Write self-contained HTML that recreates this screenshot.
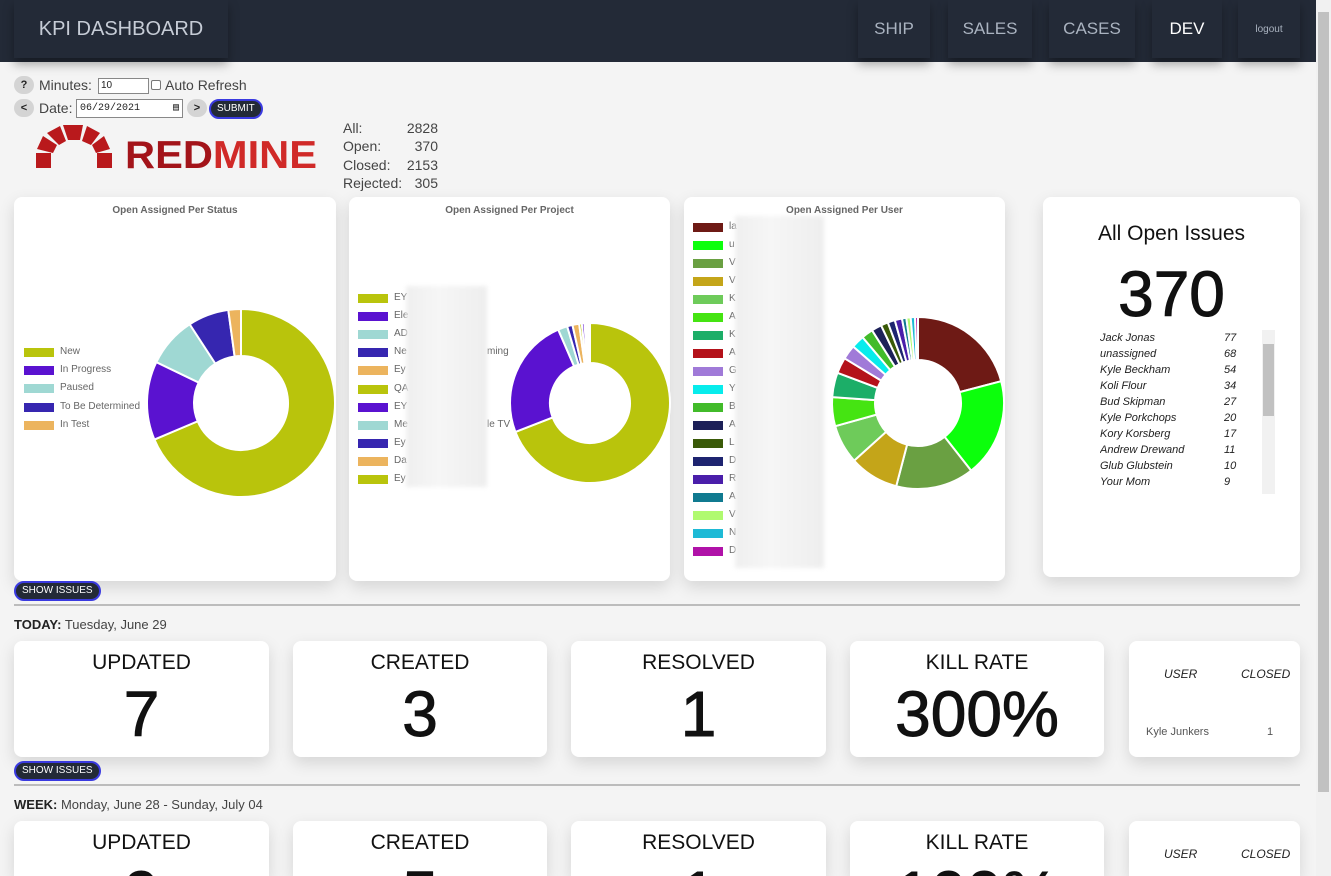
<!DOCTYPE html>
<html><head><meta charset="utf-8">
<style>
*{box-sizing:border-box;margin:0;padding:0}
html,body{width:1331px;height:876px;overflow:hidden}
body{background:#f4f4f4;font-family:"Liberation Sans",sans-serif;color:#222;position:relative}
.abs{position:absolute}
.hdr{left:0;top:0;width:1316px;height:62px;background:#232a37}
.navbox{position:absolute;top:0;height:58px;background:#232a37;box-shadow:0 6px 10px rgba(0,0,0,.35);color:#aab3c0;font-size:17px;display:flex;align-items:center;justify-content:center}
.card{position:absolute;background:#fff;border-radius:8px;box-shadow:0 6px 16px rgba(0,0,0,.13)}
.ctitle{position:absolute;top:8px;width:100%;text-align:center;font-size:10px;font-weight:bold;color:#666}
.btn{position:absolute;background:#232a37;color:#fff;border:2px solid #3a3ae0;border-radius:10px;font-size:10px;padding:2px 6px;line-height:12px}
.gbtn{position:absolute;width:20px;height:18px;border-radius:9px;background:#d4d4d4;font-size:11px;font-weight:bold;text-align:center;line-height:18px}
.leg{position:absolute;font-size:10px;color:#666}
.leg i{position:absolute;left:0;width:30px;height:9px;top:1px}
.leg span{position:absolute;left:36px;top:-1px;white-space:nowrap}
.blur{position:absolute;background:linear-gradient(90deg,#efefef,#f6f6f6 40%,#eeeeee);filter:blur(2px)}
.stat{text-align:center;overflow:hidden}
.stat .h{position:absolute;top:10px;width:100%;font-size:21px;color:#111}
.stat .v{position:absolute;top:36px;width:100%;font-size:64px;color:#111;-webkit-text-stroke:1px #111}
.hr{position:absolute;left:14px;width:1286px;height:2px;background:#bcbcbc}
.sec{position:absolute;left:14px;font-size:13px;color:#444}
.sec b{color:#222;font-weight:bold}
.wk{height:55px!important;border-radius:8px 8px 0 0}
</style></head><body>
<div class="abs hdr"></div>
<div class="navbox" style="left:14px;width:214px;font-size:20px;color:#c6ccd6">KPI DASHBOARD</div>
<div class="navbox" style="left:858px;width:72px">SHIP</div>
<div class="navbox" style="left:948px;width:84px">SALES</div>
<div class="navbox" style="left:1049px;width:86px">CASES</div>
<div class="navbox" style="left:1152px;width:70px;color:#fff">DEV</div>
<div class="navbox" style="left:1238px;width:62px;font-size:10px">logout</div>
<div class="abs" style="left:1316px;top:0;width:15px;height:876px;background:#f1f1f1;z-index:5"><div style="position:absolute;left:2px;top:12px;width:11px;height:780px;background:#c1c1c1"></div></div>

<div class="gbtn" style="left:14px;top:76px">?</div>
<div class="abs" style="left:39px;top:77px;font-size:14px;color:#444">Minutes:</div>
<div class="abs" style="left:98px;top:78px;width:51px;height:16px;border:1px solid #888;background:#fff;font-size:10px;padding-left:2px;line-height:14px">10</div>
<div class="abs" style="left:151px;top:80px;width:10px;height:10px;border:1px solid #777;border-radius:2px;background:#fff"></div>
<div class="abs" style="left:165px;top:77px;font-size:14px;color:#444">Auto Refresh</div>
<div class="gbtn" style="left:14px;top:99px">&lt;</div>
<div class="abs" style="left:39px;top:100px;font-size:14px;color:#444">Date:</div>
<div class="abs" style="left:76px;top:99px;width:107px;height:19px;border:1px solid #888;background:#fff;font-size:10px;padding-left:3px;line-height:17px;font-family:'Liberation Mono',monospace">06/29/2021 <span style="float:right;margin-right:3px">&#9636;</span></div>
<div class="gbtn" style="left:187px;top:99px">&gt;</div>
<div class="btn" style="left:209px;top:99px;height:20px">SUBMIT</div>

<svg class="abs" style="left:34px;top:124px" width="290" height="48">
<g fill="#b9191c">
<path d="M2 44 L2 29 L17 29 L17 44Z"/><path d="M3 25 L9 12 L23 21 L19 29Z"/><path d="M13 9 L26 2 L32 17 L25 21Z"/><path d="M29 1 L49 1 L46 16 L34 16Z"/><path d="M53 2 L66 9 L57 21 L48 17Z"/><path d="M70 12 L76 25 L62 29 L58 21Z"/><path d="M63 29 L78 29 L78 44 L63 44Z"/>
</g>
<text x="91" y="44" font-family="Liberation Sans" font-weight="bold" font-size="39" fill="#a3141a" textLength="192" lengthAdjust="spacingAndGlyphs">RED<tspan fill="#d02a28">MINE</tspan></text>
</svg>
<div class="abs" style="left:343px;top:119px;font-size:14px;line-height:18.3px;color:#444">All:<br>Open:<br>Closed:<br>Rejected:</div>
<div class="abs" style="left:400px;top:119px;width:38px;text-align:right;font-size:14px;line-height:18.3px;color:#444">2828<br>370<br>2153<br>305</div>

<div class="card" style="left:14px;top:197px;width:322px;height:384px"><div class="ctitle">Open Assigned Per Status</div></div>
<div class="card" style="left:349px;top:197px;width:321px;height:384px"><div class="ctitle">Open Assigned Per Project</div></div>
<div class="card" style="left:684px;top:197px;width:321px;height:384px"><div class="ctitle">Open Assigned Per User</div></div>
<div class="card" style="left:1043px;top:197px;width:257px;height:380px">
<div style="position:absolute;top:25px;width:100%;text-align:center;font-size:21px;color:#111">All Open Issues</div>
<div style="position:absolute;top:60px;width:100%;text-align:center;font-size:64px;color:#111;-webkit-text-stroke:1px #111">370</div>
<div style="position:absolute;left:219px;top:133px;width:13px;height:164px;background:#f1f1f1"><div style="position:absolute;left:1px;top:14px;width:11px;height:72px;background:#c1c1c1"></div></div>
</div>
<div id="issuelist"></div>
<svg class="abs" id="charts" style="left:0;top:0" width="1331" height="876"></svg>
<div id="legends"></div>
<div class="blur" style="left:406px;top:286px;width:81px;height:201px"></div>
<div class="blur" style="left:735px;top:216px;width:89px;height:352px"></div>

<div class="btn" style="left:14px;top:581px">SHOW ISSUES</div>
<div class="hr" style="top:604px"></div>
<div class="sec" style="top:617px"><b>TODAY:</b> Tuesday, June 29</div>
<div class="card stat" style="left:14px;top:641px;width:255px;height:116px"><div class="h">UPDATED</div><div class="v">7</div></div>
<div class="card stat" style="left:293px;top:641px;width:254px;height:116px"><div class="h">CREATED</div><div class="v">3</div></div>
<div class="card stat" style="left:571px;top:641px;width:255px;height:116px"><div class="h">RESOLVED</div><div class="v">1</div></div>
<div class="card stat" style="left:850px;top:641px;width:254px;height:116px"><div class="h">KILL RATE</div><div class="v">300%</div></div>
<div class="card" style="left:1129px;top:641px;width:171px;height:116px">
<div style="position:absolute;left:35px;top:26px;font-size:12px;font-style:italic;color:#222">USER</div>
<div style="position:absolute;left:112px;top:26px;font-size:12px;font-style:italic;color:#222">CLOSED</div>
<div style="position:absolute;left:17px;top:85px;font-size:11px;color:#555">Kyle Junkers</div>
<div style="position:absolute;left:138px;top:85px;font-size:11px;color:#555">1</div></div>
<div class="btn" style="left:14px;top:761px">SHOW ISSUES</div>
<div class="hr" style="top:784px"></div>
<div class="sec" style="top:797px"><b>WEEK:</b> Monday, June 28 - Sunday, July 04</div>
<div class="card stat wk" style="left:14px;top:821px;width:255px"><div class="h">UPDATED</div><div class="v">9</div></div>
<div class="card stat wk" style="left:293px;top:821px;width:254px"><div class="h">CREATED</div><div class="v">5</div></div>
<div class="card stat wk" style="left:571px;top:821px;width:255px"><div class="h">RESOLVED</div><div class="v">1</div></div>
<div class="card stat wk" style="left:850px;top:821px;width:254px"><div class="h">KILL RATE</div><div class="v">100%</div></div>
<div class="card wk" style="left:1129px;top:821px;width:171px">
<div style="position:absolute;left:35px;top:26px;font-size:12px;font-style:italic;color:#222">USER</div>
<div style="position:absolute;left:112px;top:26px;font-size:12px;font-style:italic;color:#222">CLOSED</div></div>

<script>
const statusLabels=["New","In Progress","Paused","To Be Determined","In Test"];
const statusValues=[254,50,32,26,8];
const statusColors=["#b9c40c","#5a12d0","#9fd8d3","#3626b0","#ecb45e"];
const projectLabels=["EY","Ele","AD","Ne","Ey","QA","EY","Me","Ey","Da","Ey"];
const projectValues=[255,90,7,4,5,2,2,1,1,1,1];
const projectColors=["#b9c40c","#5a12d0","#9fd8d3","#3626b0","#ecb45e","#b9c40c","#5a12d0","#9fd8d3","#3626b0","#ecb45e","#b9c40c"];
const userLabels=["la","u","V","V","K","A","K","A","G","Y","B","A","L","D","R","A","V","N","D"];
const userValues=[77,68,54,34,27,20,17,11,10,9,8,7,5,5,5,3,3,3,2];
const userColors=["#6e1a15","#0cff0c","#6aa042","#c4a519","#6ecb5a","#45e412","#1cae68","#b4121a","#a07ad8","#07ecec","#42bb2a","#1c2058","#3a5a08","#1e2470","#4a1eaa","#107a90","#b0fa70","#1ebad6","#b012a8"];
const issueNames=["Jack Jonas","unassigned","Kyle Beckham","Koli Flour","Bud Skipman","Kyle Porkchops","Kory Korsberg","Andrew Drewand","Glub Glubstein","Your Mom","Rudy Rutabaga"];
const issueCounts=[77,68,54,34,27,20,17,11,10,9,8];

const NS="http://www.w3.org/2000/svg";
const svg=document.getElementById('charts');
function donut(cx,cy,R,r,vals,cols,name){
  const total=vals.reduce((a,b)=>a+b,0);let a0=0;
  vals.forEach((v,i)=>{
    const a1=a0+v/total*Math.PI*2;
    const p=(a,rad)=>[cx+rad*Math.sin(a),cy-rad*Math.cos(a)];
    const L=(a1-a0)>Math.PI?1:0;
    const [x1,y1]=p(a0,R),[x2,y2]=p(a1,R),[x3,y3]=p(a1,r),[x4,y4]=p(a0,r);
    const path=document.createElementNS(NS,'path');
    path.setAttribute('d',`M${x1} ${y1}A${R} ${R} 0 ${L} 1 ${x2} ${y2}L${x3} ${y3}A${r} ${r} 0 ${L} 0 ${x4} ${y4}Z`);
    path.setAttribute('fill',cols[i]);path.setAttribute('stroke','#fff');path.setAttribute('stroke-width','2');
    
    
    svg.appendChild(path);a0=a1;
  });
}
donut(241,403,94,47,statusValues,statusColors,'status');
donut(590,403,80,40,projectValues,projectColors,'project');
donut(918,403,86,43,userValues,userColors,'user');

const lg=document.getElementById('legends');
function legend(x,y0,step,labels,cols,name){
  labels.forEach((t,i)=>{
    const d=document.createElement('div');d.className='leg';
    d.style.left=x+'px';d.style.top=(y0+i*step)+'px';
    d.innerHTML=`<i style="background:${cols[i]}"></i><span>${t}</span>`;
    
    
    lg.appendChild(d);
  });
}
legend(24,347,18.2,statusLabels,statusColors,'status');
legend(358,293,18.1,projectLabels,projectColors,'project');
legend(693,222,18,userLabels,userColors,'user');
const ex1=document.createElement('div');ex1.className='leg';ex1.style.left='487px';ex1.style.top='346px';ex1.textContent='ming';lg.appendChild(ex1);
const ex2=document.createElement('div');ex2.className='leg';ex2.style.left='487px';ex2.style.top='419px';ex2.textContent='le TV';lg.appendChild(ex2);

const il=document.getElementById('issuelist');
issueNames.forEach((n,i)=>{
  const top=331+i*16;if(top>487)return;
  const d=document.createElement('div');
  d.style.cssText=`position:absolute;left:1100px;top:${top}px;width:138px;height:16px;font-size:11px;font-style:italic;color:#222;line-height:14px;overflow:hidden`;
  d.innerHTML=`<span>${n}</span><span style="position:absolute;left:124px">${issueCounts[i]}</span>`;
  if(top>480){d.style.height='6px';}
  
  
  il.appendChild(d);
});
</script>
</body></html>
